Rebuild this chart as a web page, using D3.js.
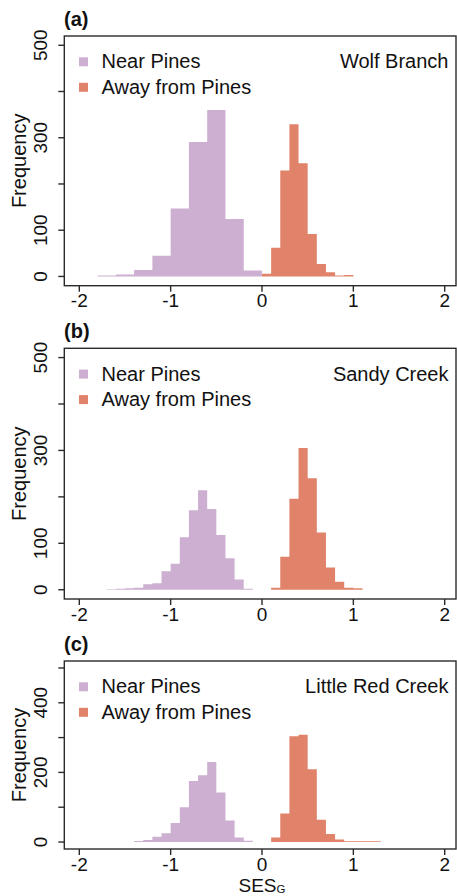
<!DOCTYPE html>
<html>
<head>
<meta charset="utf-8">
<script src="https://cdn.jsdelivr.net/npm/d3@7"></script>
<style>
  body { margin: 0; background: #fff; }
  text { font-family: "Liberation Sans", Arial, Helvetica, sans-serif; fill: #111; }
</style>
</head>
<body>
<div id="chart"></div>
<script>
(function() {

  // ---- data ----
  var panelLetters = ["(a)", "(b)", "(c)"];
  var siteNames = ["Wolf Branch", "Sandy Creek", "Little Red Creek"];
  var seriesNames = ["Near Pines", "Away from Pines"];
  var xTicks = [-2, -1, 0, 1, 2];
  var yTicks = [0, 100, 200, 300, 400, 500];
  var yLabelsA = [0, 100, 300, 500];
  var yLabelsB = [0, 100, 300, 500];
  var yLabelsC = [0, 200, 400];

  // lower bin edges + counts, one pair per histogram
  var nearA_bins = [-1.8, -1.6, -1.4, -1.2, -1.0, -0.8, -0.6, -0.4, -0.2];
  var nearA_counts = [2, 4, 14, 45, 147, 291, 360, 124, 13];
  var nearA_width = 0.2;
  var awayA_bins = [0.0, 0.1, 0.2, 0.3, 0.4, 0.5, 0.6, 0.7, 0.8, 0.9];
  var awayA_counts = [6, 62, 229, 329, 245, 92, 27, 9, 2, 3];

  var nearB_bins = [-1.7, -1.6, -1.5, -1.4, -1.3, -1.2, -1.1, -1.0, -0.9, -0.8, -0.7, -0.6, -0.5, -0.4, -0.3, -0.2];
  var nearB_counts = [1, 2, 3, 4, 12, 14, 40, 56, 113, 171, 214, 174, 118, 68, 22, 2];
  var awayB_bins = [0.1, 0.2, 0.3, 0.4, 0.5, 0.6, 0.7, 0.8, 0.9, 1.0];
  var awayB_counts = [4, 71, 196, 305, 240, 123, 48, 17, 4, 3];

  var nearC_bins = [-1.4, -1.3, -1.2, -1.1, -1.0, -0.9, -0.8, -0.7, -0.6, -0.5, -0.4, -0.3, -0.2];
  var nearC_counts = [3, 6, 15, 25, 55, 100, 175, 192, 230, 142, 62, 13, 4];
  var awayC_bins = [0.1, 0.2, 0.3, 0.4, 0.5, 0.6, 0.7, 0.8, 0.9, 1.0, 1.1, 1.2];
  var awayC_counts = [13, 82, 304, 308, 209, 64, 23, 7, 2, 2, 2, 2];
  var narrowWidth = 0.1;

  var colors = ["#cdafd1", "#e0836a"];

  // ---- layout ----
  var W = 457, H = 896;
  var boxLeft = 64.3, boxRight = 456;

  var panels = [
    { top: 36, bottom: 285.7, yLabels: yLabelsA,
      near: { bins: nearA_bins, counts: nearA_counts, w: nearA_width },
      away: { bins: awayA_bins, counts: awayA_counts, w: narrowWidth } },
    { top: 348.3, bottom: 599, yLabels: yLabelsB,
      near: { bins: nearB_bins, counts: nearB_counts, w: narrowWidth },
      away: { bins: awayB_bins, counts: awayB_counts, w: narrowWidth } },
    { top: 661, bottom: 849, yLabels: yLabelsC,
      near: { bins: nearC_bins, counts: nearC_counts, w: narrowWidth },
      away: { bins: awayC_bins, counts: awayC_counts, w: narrowWidth } }
  ];

  var svg = d3.select("#chart")
    .append("svg")
    .attr("width", W)
    .attr("height", H);

  var xScale = d3.scaleLinear()
    .domain([-2, 2])
    .range([79.3, 444.7]);

  panels.forEach(function(p, i) {
    var g = svg.append("g");

    // R pads the axis 4% on each side
    var yScale = d3.scaleLinear()
      .domain([-20, 520])
      .range([p.bottom, p.top]);

    // each histogram as one stepped area so no seams show between bars
    var area = d3.area()
      .curve(d3.curveStepAfter)
      .x(function(d) { return xScale(d.x); })
      .y0(yScale(0))
      .y1(function(d) { return yScale(d.n); });

    var series = [p.near, p.away];
    series.forEach(function(s, k) {
      var pts = s.bins.map(function(b, j) {
        return { x: b, n: s.counts[j] };
      });
      var last = s.bins.length - 1;
      pts.push({ x: s.bins[last] + s.w, n: s.counts[last] });

      g.append("path")
        .datum(pts)
        .attr("d", area)
        .attr("fill", colors[k]);
    });

    // box
    g.append("rect")
      .attr("x", boxLeft)
      .attr("y", p.top)
      .attr("width", boxRight - boxLeft)
      .attr("height", p.bottom - p.top)
      .attr("fill", "none")
      .attr("stroke", "#2a2a2a")
      .attr("stroke-width", 1.4);

    // x ticks
    g.selectAll(".xtick")
      .data(xTicks)
      .enter().append("line")
      .attr("class", "xtick")
      .attr("x1", function(d) { return xScale(d); })
      .attr("x2", function(d) { return xScale(d); })
      .attr("y1", p.bottom)
      .attr("y2", p.bottom + 6)
      .attr("stroke", "#2a2a2a")
      .attr("stroke-width", 1.4);

    g.selectAll(".xlab")
      .data(xTicks)
      .enter().append("text")
      .attr("class", "xlab")
      .attr("x", function(d) { return xScale(d); })
      .attr("y", p.bottom + 21.5)
      .attr("text-anchor", "middle")
      .attr("font-size", "19px")
      .text(function(d) { return d; });

    // y ticks
    g.selectAll(".ytick")
      .data(yTicks)
      .enter().append("line")
      .attr("class", "ytick")
      .attr("x1", boxLeft - 6)
      .attr("x2", boxLeft)
      .attr("y1", function(d) { return yScale(d); })
      .attr("y2", function(d) { return yScale(d); })
      .attr("stroke", "#2a2a2a")
      .attr("stroke-width", 1.4);

    g.selectAll(".ylab")
      .data(p.yLabels)
      .enter().append("text")
      .attr("class", "ylab")
      .attr("transform", function(d) { return "translate(47," + yScale(d) + ") rotate(-90)"; })
      .attr("text-anchor", "middle")
      .attr("font-size", "19px")
      .text(function(d) { return d; });

    g.append("text")
      .attr("transform", "translate(26," + ((p.top + p.bottom) / 2) + ") rotate(-90)")
      .attr("text-anchor", "middle")
      .attr("font-size", "20px")
      .text("Frequency");

    // panel letter
    g.append("text")
      .attr("x", 64)
      .attr("y", p.top - 10.5)
      .attr("font-size", "20px")
      .attr("font-weight", "bold")
      .text(panelLetters[i]);

    // legend
    var legendY = [p.top + 32.3, p.top + 57.8];
    seriesNames.forEach(function(name, k) {
      g.append("rect")
        .attr("x", 79)
        .attr("y", legendY[k] - 11)
        .attr("width", 9)
        .attr("height", 9)
        .attr("fill", colors[k]);
      g.append("text")
        .attr("x", 101.5)
        .attr("y", legendY[k])
        .attr("font-size", "20px")
        .text(name);
    });

    g.append("text")
      .attr("x", 448.5)
      .attr("y", legendY[0])
      .attr("text-anchor", "end")
      .attr("font-size", "20px")
      .text(siteNames[i]);
  });

  // x axis title with subscript
  var xt = svg.append("text")
    .attr("x", xScale(0))
    .attr("y", 891.5)
    .attr("text-anchor", "middle")
    .attr("font-size", "19px");
  xt.append("tspan").text("SES");
  xt.append("tspan")
    .attr("font-size", "11.5px")
    .attr("dy", 1.8)
    .text("G");

})();
</script>
</body>
</html>
